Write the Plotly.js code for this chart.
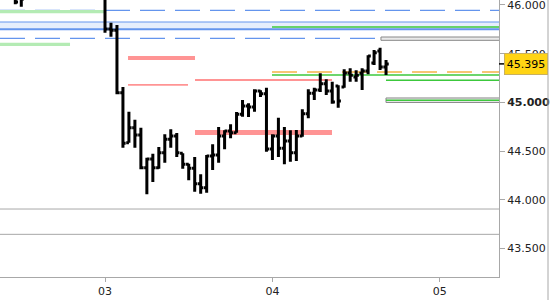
<!DOCTYPE html>
<html>
<head>
<meta charset="utf-8">
<script src="https://cdn.plot.ly/plotly-3.0.1.min.js"></script>
<style>html,body{margin:0;padding:0;background:#fff;}#chart{width:550px;height:300px;}</style>
</head>
<body>
<div id="chart"></div>
<script>
// ---- data (bar index: 28 bars per day, 0 = first bar of day 03) ----
const barIndex = [-15,-14,0,1,2,3,4,5,6,7,8,9,10,11,12,13,14,15,16,17,18,19,20,21,22,23,24,25,26,27,28,29,30,31,32,33,34,35,36,37,38,39,40,41,42,43,44,45,46,47];
const opens  = [46.150,46.100,46.090,45.753,45.740,45.099,44.586,44.740,44.665,44.329,44.418,44.329,44.483,44.621,44.655,44.477,44.364,44.323,44.165,44.124,44.449,44.460,44.655,44.706,44.689,44.877,44.963,44.952,45.117,45.089,44.521,44.655,44.528,44.603,44.483,44.655,44.884,45.093,45.127,45.192,45.117,45.168,45.158,45.301,45.260,45.298,45.322,45.404,45.527,45.363];
const highs  = [46.250,46.200,46.143,45.818,45.794,45.158,44.904,44.822,44.740,44.432,44.473,44.542,44.672,44.723,44.685,44.477,44.370,44.439,44.261,44.460,44.569,44.747,44.713,44.775,44.901,45.024,44.990,45.134,45.124,45.151,44.672,44.842,44.747,44.713,44.716,44.929,45.134,45.151,45.298,45.237,45.212,45.175,45.339,45.350,45.329,45.350,45.483,45.538,45.561,45.435];
const lows   = [46.007,45.982,45.715,45.674,45.083,44.535,44.586,44.535,44.313,44.056,44.182,44.319,44.380,44.535,44.439,44.319,44.200,44.083,44.062,44.072,44.306,44.380,44.518,44.631,44.689,44.853,44.850,44.904,45.055,44.493,44.408,44.439,44.364,44.391,44.398,44.647,44.836,45.024,45.106,45.076,44.986,44.945,45.151,45.212,45.212,45.127,45.288,45.384,45.332,45.281];
const closes = [46.030,46.060,45.753,45.740,45.099,44.580,44.740,44.665,44.329,44.418,44.329,44.483,44.621,44.655,44.483,44.364,44.323,44.165,44.124,44.449,44.460,44.655,44.706,44.689,44.877,44.963,44.952,45.117,45.089,44.521,44.655,44.528,44.603,44.483,44.655,44.884,45.093,45.127,45.192,45.117,45.004,45.014,45.301,45.278,45.278,45.322,45.476,45.510,45.363,45.395];

const dayTickPos = [0, 28, 56];
const dayLabels = ['03', '04', '05'];
const priceTicks = [43.5, 44.0, 44.5, 45.0, 45.5, 46.0];
const priceTickText = ['43.500', '44.000', '44.500', '<b>45.000</b>', '45.500', '46.000'];
const lastPrice = 45.395;

// horizontal levels / zones (price values, start/end bar index; null = full width)
const zoneBlueBand = [45.750, 45.825];
const dashedBlueLevels = [45.945, 45.657];
const greenZoneA = {from: null, to: 0, lo: 45.914, hi: 45.948};
const greenZoneB = {from: null, to: -5.85, lo: 45.579, hi: 45.612};
const redZones = [
  {from: 3.85, to: 15.05, lo: 45.435, hi: 45.476},
  {from: 3.85, to: 13.88, lo: 45.171, hi: 45.188},
  {from: 15.05, to: 37.96, lo: 45.219, hi: 45.240},
  {from: 15.05, to: 37.96, lo: 44.665, hi: 44.716}
];
const orangeLevel = {from: 27.93, value: 45.312};
const greenLevels = [
  {from: 27.93, value: 45.774},
  {from: 27.93, value: 45.281},
  {from: 46.99, value: 45.226}
];
const grayBoxes = [
  {from: 46.15, lo: 45.637, hi: 45.671, inner: null},
  {from: 46.99, lo: 44.999, hi: 45.045, inner: 45.021}
];
const grayLevels = [43.905, 43.645];

const XMIN = -17.56, XMAX = 65.89;
const YMIN = 43.207, YMAX = 46.051;

const shapes = [];
function xr(v, dflt) { return v === null ? dflt : v; }
// blue band
shapes.push({type:'rect', layer:'below', xref:'paper', yref:'y', x0:0, x1:1, y0:zoneBlueBand[0], y1:zoneBlueBand[1], fillcolor:'#E6EEFC', line:{width:0}});
shapes.push({type:'line', layer:'below', xref:'paper', yref:'y', x0:0, x1:1, y0:zoneBlueBand[1], y1:zoneBlueBand[1], line:{color:'#6495ED', width:1}});
shapes.push({type:'line', layer:'below', xref:'paper', yref:'y', x0:0, x1:1, y0:zoneBlueBand[0], y1:zoneBlueBand[0], line:{color:'#6495ED', width:2}});
// green zones
[greenZoneA, greenZoneB].forEach(z => shapes.push({type:'rect', layer:'below', xref:'x', yref:'y', x0:xr(z.from, XMIN-5), x1:z.to, y0:z.lo, y1:z.hi, fillcolor:'#B4EBB4', line:{width:0}}));
// dashed blue lines
dashedBlueLevels.forEach(v => shapes.push({type:'line', layer:'below', xref:'paper', yref:'y', x0:0, x1:1, y0:v, y1:v, line:{color:'#6495ED', width:1.3, dash:'25px,10px'}}));
// red zones
redZones.forEach(z => shapes.push({type:'rect', layer:'below', xref:'x', yref:'y', x0:z.from, x1:z.to, y0:z.lo, y1:z.hi, fillcolor:'#FF9494', line:{width:0}}));
// gray boxes
grayBoxes.forEach(b => {
  shapes.push({type:'rect', layer:'below', xref:'x', yref:'y', x0:b.from, x1:XMAX+5, y0:b.lo, y1:b.hi, fillcolor:'#EAEAEA', line:{color:'#888888', width:1}});
  if (b.inner !== null) shapes.push({type:'line', layer:'below', xref:'x', yref:'y', x0:b.from, x1:XMAX+5, y0:b.inner, y1:b.inner, line:{color:'#3CC83C', width:1.5}});
});
// orange dashed
shapes.push({type:'line', layer:'below', xref:'x', yref:'y', x0:orangeLevel.from, x1:XMAX+5, y0:orangeLevel.value, y1:orangeLevel.value, line:{color:'#F5B445', width:1.3, dash:'25px,10px'}});
// green lines
greenLevels.forEach(g => shapes.push({type:'line', layer:'below', xref:'x', yref:'y', x0:g.from, x1:XMAX+5, y0:g.value, y1:g.value, line:{color:'#3CC83C', width:1.5}}));
// gray horizontal levels
grayLevels.forEach(v => shapes.push({type:'line', layer:'below', xref:'paper', yref:'y', x0:0, x1:1, y0:v, y1:v, line:{color:'#A8A8A8', width:1}}));
// last price marker tick
shapes.push({type:'line', xref:'paper', yref:'y', x0:1.0, x1:1.012, y0:lastPrice, y1:lastPrice, line:{color:'#000', width:1.5}});
// right border of price panel
shapes.push({type:'line', xref:'paper', yref:'paper', x0:1.0982, x1:1.0982, y0:-0.1, y1:1, line:{color:'#A8A8A8', width:1}});

const trace = {
  type: 'ohlc',
  x: barIndex, open: opens, high: highs, low: lows, close: closes,
  increasing: {line: {color: '#000', width: 3}},
  decreasing: {line: {color: '#000', width: 3}},
  tickwidth: 0.45,
  hoverinfo: 'skip',
  showlegend: false
};

const font = {family: 'DejaVu Sans, Verdana, sans-serif', size: 11, color: '#222'};
const layout = {
  width: 550, height: 300,
  margin: {l: 0, r: 51, t: 0, b: 23, pad: 0},
  paper_bgcolor: '#fff', plot_bgcolor: '#fff',
  font: font,
  showlegend: false,
  xaxis: {
    range: [XMIN, XMAX], fixedrange: true,
    showgrid: false, zeroline: false,
    showline: true, linecolor: '#A8A8A8', linewidth: 1,
    ticks: 'outside', ticklen: 4, tickcolor: '#A8A8A8',
    tickmode: 'array', tickvals: dayTickPos, ticktext: dayLabels,
    tickfont: font,
    rangeslider: {visible: false}
  },
  yaxis: {
    side: 'right', range: [YMIN, YMAX], fixedrange: true,
    showgrid: false, zeroline: false,
    showline: true, linecolor: '#A8A8A8', linewidth: 1,
    ticks: 'outside', ticklen: 5, tickcolor: '#A8A8A8',
    tickmode: 'array', tickvals: priceTicks, ticktext: priceTickText,
    ticklabeloverflow: 'allow',
    tickfont: font
  },
  shapes: shapes,
  annotations: [{
    xref: 'paper', yref: 'y', x: 1.0541, y: lastPrice,
    text: lastPrice.toFixed(3), showarrow: false,
    font: {family: 'DejaVu Sans, Verdana, sans-serif', size: 11, color: '#000'},
    bgcolor: '#FFD414', bordercolor: '#C8B060', borderwidth: 1, borderpad: 2,
    width: 38, height: 16, xanchor: 'center', yanchor: 'middle'
  }]
};

Plotly.newPlot('chart', [trace], layout, {staticPlot: true, displayModeBar: false});
</script>
</body>
</html>
